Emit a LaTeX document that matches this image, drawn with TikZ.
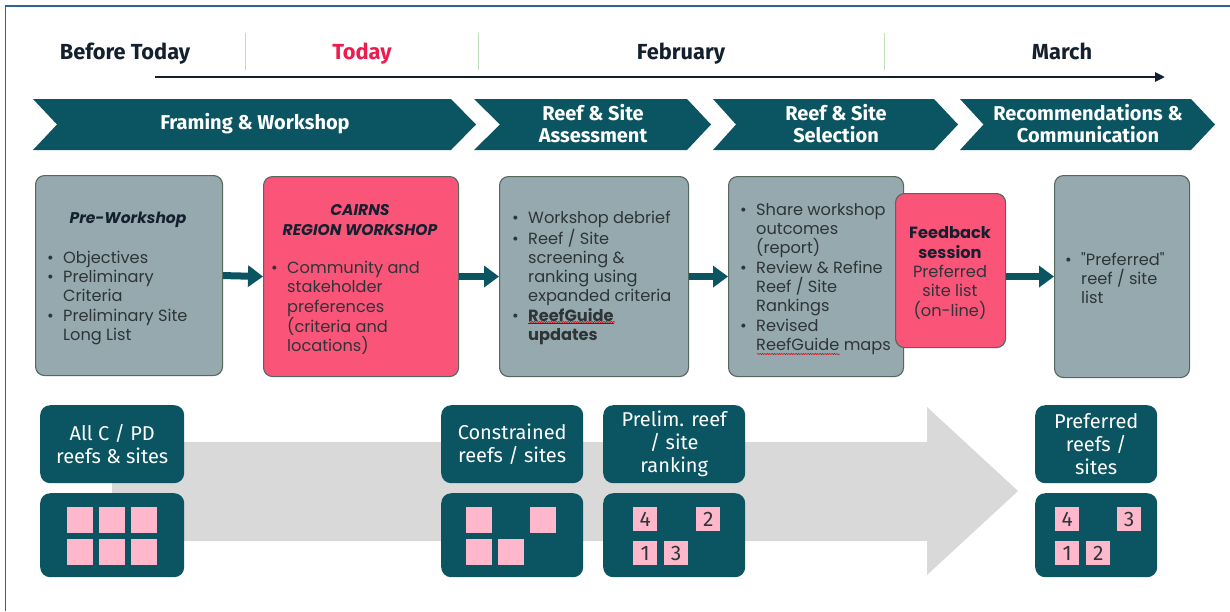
\documentclass[tikz,border=0pt]{standalone}
\usepackage{fontspec}
\setmainfont{Poppins}
\newfontfamily\hdrfont{Fira Sans}
\newfontfamily\boxfont{Poppins}
\newfontfamily\btmfont{Fira Sans}
\usetikzlibrary{arrows.meta,decorations.pathmorphing}
\definecolor{tealdk}{HTML}{0B5461}
\definecolor{grayfill}{HTML}{96A9AE}
\definecolor{grayedge}{HTML}{55685C}
\definecolor{pinkfill}{HTML}{FA5479}
\definecolor{sqpink}{HTML}{FFB8CB}
\definecolor{arrowgray}{HTML}{D9D9D9}
\definecolor{navy}{HTML}{14202E}
\definecolor{todayred}{HTML}{EC1C4C}
\definecolor{sepgreen}{HTML}{BFDDBB}
\definecolor{framebl}{HTML}{2C6690}
\definecolor{txtdark}{HTML}{2D3538}
\newcommand\bli{\makebox[16pt][l]{\textbullet}}
\newcommand\blc{\hspace*{16pt}}
\begin{document}
\begin{tikzpicture}[x=1pt,y=-1pt,
  hdr/.style={font=\hdrfont\bfseries\fontsize{21.8}{26}\selectfont, text=navy, inner sep=0, anchor=base},
  chev/.style={fill=tealdk},
  chevtxt/.style={font=\hdrfont\bfseries\fontsize{20}{22}\selectfont, text=white, align=center, inner sep=0},
  procbox/.style={draw=grayedge, line width=1.1pt, rounded corners=9pt, fill=grayfill, anchor=north west, inner sep=0},
  pinkbox/.style={procbox, fill=pinkfill},
  listtxt/.style={font=\boxfont\fontsize{16.2}{19.3}\selectfont, text=txtdark, align=left, anchor=west, inner sep=0},
  flowarrow/.style={draw=tealdk, line width=7pt, -{Triangle[length=15pt,width=21pt]}},
  btmbox/.style={fill=tealdk, rounded corners=10pt, anchor=north west, inner sep=0, minimum height=78pt,
     font=\btmfont\fontsize{20}{23}\selectfont, text=white, align=center},
  sqbox/.style={fill=sqpink, anchor=north west, minimum width=26pt, minimum height=26pt, inner sep=0},
  numbox/.style={fill=sqpink, anchor=north west, minimum width=24pt, minimum height=24pt, inner sep=0,
     font=\btmfont\fontsize{21}{22}\selectfont, text=txtdark},
  squig/.style={draw=red!85!black, line width=0.5pt, decorate, decoration={snake, amplitude=0.6pt, segment length=2.4pt}}
]
\useasboundingbox (0,0) rectangle (1230,611);
\fill[white] (0,0) rectangle (1230,611);
% frame
\draw[framebl, line width=1.5pt] (5.5,611) -- (5.5,6) -- (1230,6);

% header
\node[hdr] (hbt) at (125,59) {Before Today};
\node[hdr, text=todayred] (htd) at (362,59) {Today};
\node[hdr] (hfeb) at (681,59) {February};
\node[hdr] (hmar) at (1062,59) {March};
\foreach \sx in {245,478,884} \draw[sepgreen, line width=0.8pt] (\sx,33) -- (\sx,70);
\coordinate (tl1) at (155,77);
\coordinate (tl2) at (1165,77);
\draw[navy, line width=2.6pt, -{Triangle[length=10pt,width=9pt]}] (tl1) -- (tl2);

% chevrons
\fill[chev] (33,99) -- (451,99) -- (476,124.5) -- (451,150) -- (33,150) -- (57,124.5) -- cycle;
\fill[chev] (474,99) -- (687,99) -- (711,124.5) -- (687,150) -- (474,150) -- (500,124.5) -- cycle;
\fill[chev] (713,99) -- (934,99) -- (958,124.5) -- (934,150) -- (713,150) -- (736,124.5) -- cycle;
\fill[chev] (960,99) -- (1191,99) -- (1215,124.5) -- (1191,150) -- (960,150) -- (983.5,124.5) -- cycle;
\node[chevtxt] (c1) at (255,124) {Framing \& Workshop};
\node[chevtxt] (c2) at (593,124) {Reef \& Site\\Assessment};
\node[chevtxt] (c3) at (836,124) {Reef \& Site\\Selection};
\node[chevtxt] (c4) at (1088,124) {Recommendations \&\\Communication};

% process boxes
\node[procbox, minimum width=187pt, minimum height=200pt] (b1) at (35,175) {};
\node[pinkbox, minimum width=195pt, minimum height=200pt] (b2) at (263,176) {};
\node[procbox, minimum width=189pt, minimum height=200pt] (b3) at (499,176) {};
\node[procbox, minimum width=175pt, minimum height=200pt] (b4) at (728,176) {};
\node[pinkbox, minimum width=110pt, minimum height=154pt] (b5) at (895,193) {};
\node[procbox, minimum width=135pt, minimum height=202pt] (b6) at (1054,175) {};

\draw[flowarrow] (b1.east) -- (b2.west);
\draw[flowarrow] (b2.east) -- (b3.west);
\draw[flowarrow] (b3.east) -- (b4.west);
\draw[flowarrow] (b5.east |- b6.west) -- (b6.west);

\node[listtxt, anchor=center, align=center, font=\boxfont\bfseries\itshape\fontsize{15.5}{19.3}\selectfont, text=navy] (t1) at (128,220) {Pre-Workshop};
\node[listtxt] (l1) at (47,298) {\bli Objectives\\ \bli Preliminary\\ \blc Criteria\\ \bli Preliminary Site\\ \blc Long List};
\node[listtxt, anchor=center, align=center, font=\boxfont\bfseries\itshape\fontsize{15.5}{19.3}\selectfont, text=navy] (t2) at (360,220) {CAIRNS\\REGION WORKSHOP};
\node[listtxt] (l2) at (271,308) {\bli Community and\\ \blc stakeholder\\ \blc preferences\\ \blc (criteria and\\ \blc locations)};
\node[listtxt] (l3) at (512,278) {\bli Workshop debrief\\ \bli Reef / Site\\ \blc screening \&\\ \blc ranking using\\ \blc expanded criteria\\ \bli \textbf{\underline{ReefGuide}}\\ \blc \textbf{updates}};
\node[listtxt] (l4) at (740,279) {\bli Share workshop\\ \blc outcomes\\ \blc (report)\\ \bli Review \& Refine\\ \blc Reef / Site\\ \blc Rankings\\ \bli Revised\\ \blc ReefGuide maps};
\node[listtxt, anchor=center, align=center] (l5) at (950,273) {\textbf{\color{navy}Feedback}\\ \textbf{\color{navy}session}\\ Preferred\\ site list\\ (on-line)};
\node[listtxt] (l6) at (1065,278) {\bli "Preferred"\\ \blc reef / site\\ \blc list};
\draw[squig] (529,322) -- (615,322);
\draw[squig] (757,354) -- (840,354);

% bottom big arrow
\fill[arrowgray] (112,442) -- (927,442) -- (927,407) -- (1018,491) -- (927,575) -- (927,541) -- (112,541) -- cycle;

% bottom boxes
\node[btmbox, minimum width=144pt] (ta) at (40,405) {All C / PD\\reefs \& sites};
\node[btmbox, minimum width=144pt, minimum height=84pt] (ba) at (40,493) {};
\node[btmbox, minimum width=142pt] (tb) at (441,405) {Constrained\\reefs / sites};
\node[btmbox, minimum width=142pt, minimum height=84pt] (bb) at (441,493) {};
\node[btmbox, minimum width=142pt] (tc) at (603,405) {Prelim. reef\\/ site\\ranking};
\node[btmbox, minimum width=142pt, minimum height=84pt] (bc) at (603,493) {};
\node[btmbox, minimum width=122pt] (td) at (1035,405) {Preferred\\reefs /\\sites};
\node[btmbox, minimum width=122pt, minimum height=84pt] (bd) at (1035,493) {};

% squares
\node[sqbox] (a1) at (67,507) {};
\node[sqbox] (a2) at (99,507) {};
\node[sqbox] (a3) at (131,507) {};
\node[sqbox] (a4) at (67,539) {};
\node[sqbox] (a5) at (99,539) {};
\node[sqbox] (a6) at (131,539) {};
\node[sqbox] (s1) at (466,507) {};
\node[sqbox] (s2) at (530,507) {};
\node[sqbox] (s3) at (466,539) {};
\node[sqbox] (s4) at (498,539) {};
\node[numbox] (n4) at (633,507) {4};
\node[numbox] (n2) at (696,507) {2};
\node[numbox] (n1) at (633,541) {1};
\node[numbox] (n3) at (664,541) {3};
\node[numbox] (p4) at (1055,507) {4};
\node[numbox] (p3) at (1117,507) {3};
\node[numbox] (p1) at (1055,541) {1};
\node[numbox] (p2) at (1086,541) {2};
\end{tikzpicture}
\end{document}
